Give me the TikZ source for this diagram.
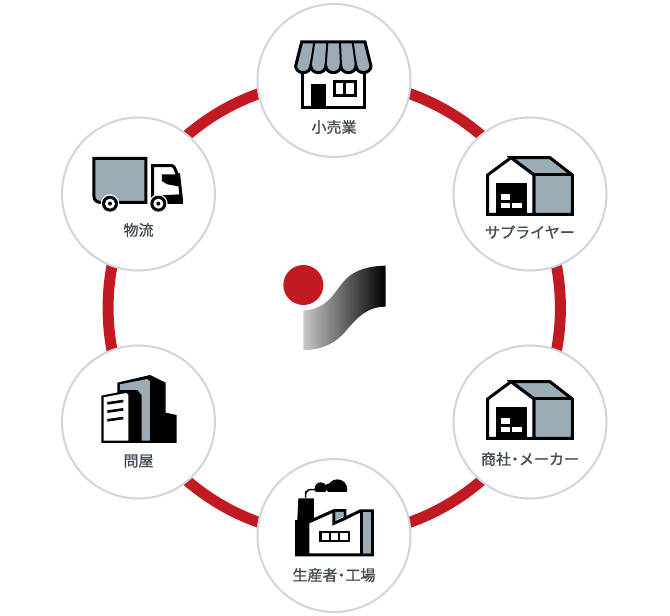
\documentclass[tikz,border=0pt]{standalone}
\usepackage{fontspec}
\setmainfont{Noto Sans CJK JP}[FakeBold=1]
\usetikzlibrary{backgrounds}
\definecolor{ringred}{HTML}{C11A22}
\definecolor{rim}{HTML}{CDD6DB}
\definecolor{slate}{HTML}{9BACB6}
\definecolor{labelc}{HTML}{3F4A50}
\tikzset{
  stage/.style={circle,draw=rim,line width=2pt,fill=white,minimum size=153pt,inner sep=0pt},
  labeltext/.style={text=labelc,font=\fontsize{15pt}{15pt}\selectfont,inner sep=0pt},
  ringarc/.style={draw=ringred,line width=11pt,bend left=30,looseness=0.912},
  ink/.style={draw=black,line width=3pt,line join=miter},
  zoomed/.style={x=0.3333pt,y=-0.3333pt},
  pics/warehouse/.style={code={
    \filldraw[fill=slate,ink] (183,128) -- (300,128) -- (367,180) -- (367,298) -- (252,298) -- (252,180) -- cycle;
    \filldraw[fill=white,ink] (113,298) -- (113,180) -- (183,128) -- (252,180) -- (252,298) -- cycle;
    \draw[ink] (252,180) -- (367,180);
    \fill[black] (137,205) rectangle (230,298);
    \fill[white] (152,238) rectangle (180,255);
    \fill[white] (152,263) rectangle (180,279);
    \fill[white] (187,263) rectangle (215,279);
  }}
}
\begin{document}
\begin{tikzpicture}[x=1pt,y=-1pt]
\useasboundingbox (0,0) rectangle (670,616);
\node[stage] (retail) at (334,80.5) {};
\node[stage] (supplier) at (530,194) {};
\node[stage] (maker) at (530,422) {};
\node[stage] (factory) at (334,535.5) {};
\node[stage] (wholesale) at (138.5,422) {};
\node[stage] (logistics) at (138.5,194) {};
\begin{scope}[on background layer]
\fill[white] (0,0) rectangle (670,616);
\draw[ringarc] (retail.center) to (supplier.center);
\draw[ringarc] (supplier.center) to (maker.center);
\draw[ringarc] (maker.center) to (factory.center);
\draw[ringarc] (factory.center) to (wholesale.center);
\draw[ringarc] (wholesale.center) to (logistics.center);
\draw[ringarc] (logistics.center) to (retail.center);
\end{scope}
\node[labeltext] (l1) at (334,127) {小売業};
\node[labeltext] (l2) at (530,232) {サプライヤー};
\node[labeltext] (l3) at (530,459) {商社\kern-3.5pt・\kern-3.5ptメーカー};
\node[labeltext] (l4) at (334,575) {生産者\kern-3.5pt・\kern-3.5pt工場};
\node[labeltext] (l5) at (138.5,461) {問屋};
\node[labeltext] (l6) at (138.5,230) {物流};
% store
\begin{scope}[shift={(250,0)},zoomed]
\filldraw[fill=white,ink] (157,205) rectangle (343,322);
\fill[black] (182,253) rectangle (228,322);
\filldraw[fill=white,ink] (253,245) rectangle (316,286);
\draw[ink] (285,245) -- (285,286);
\filldraw[fill=slate,ink] (155,126) -- (345,126) -- (363,198)
  arc[start angle=0,end angle=180,x radius=22.6,y radius=20] arc[start angle=0,end angle=180,x radius=22.6,y radius=20]
  arc[start angle=0,end angle=180,x radius=22.6,y radius=20] arc[start angle=0,end angle=180,x radius=22.6,y radius=20]
  arc[start angle=0,end angle=180,x radius=22.6,y radius=20] -- cycle;
\draw[ink,line width=2pt] (193,126) -- (182,198) (232,126) -- (227,198) (270,126) -- (273,198) (308,126) -- (318,198);
\end{scope}
% warehouses
\begin{scope}[shift={(450,115)},zoomed]
\pic {warehouse};
\end{scope}
\begin{scope}[shift={(450,339)},zoomed]
\pic {warehouse};
\end{scope}
% truck
\begin{scope}[shift={(60,115)},zoomed]
\filldraw[fill=slate,ink] (102,130) -- (258,130) -- (258,262) -- (120,262) to[out=180,in=-90] (102,245) -- cycle;
\filldraw[fill=white,ink] (278,152) -- (335,152) to[out=0,in=-110] (356,180) -- (364,250) -- (364,262) -- (278,262) -- cycle;
\fill[black] (306,178) -- (352,178) -- (360,215) -- (322,208) -- (306,198) -- cycle;
\fill[black] (285,242) -- (362,238) -- (367,262) -- (280,264) -- cycle;
\fill[white] (150,266) circle[radius=28];
\fill[white] (295,266) circle[radius=28];
\fill[black] (150,266) circle[radius=24];
\fill[white] (150,266) circle[radius=15];
\fill[black] (150,266) circle[radius=6];
\fill[black] (295,266) circle[radius=24];
\fill[white] (295,266) circle[radius=15];
\fill[black] (295,266) circle[radius=6];
\end{scope}
% building
\begin{scope}[shift={(60,345)},zoomed]
\fill[black] (172,113) -- (270,90) -- (317,113) -- (317,203) -- (350,210) -- (350,294) -- (172,294) -- cycle;
\fill[slate] (180,118) -- (262,102) -- (270,110) -- (270,287) -- (245,287) -- (245,150) -- (232,135) -- (180,135) -- cycle;
\fill[black] (124,152) -- (205,136) -- (240,148) -- (240,294) -- (124,294) -- cycle;
\fill[white] (131,157) -- (199,144) -- (205,150) -- (205,287) -- (131,287) -- cycle;
\draw[black,line width=2.6pt] (142,175) -- (190,168) (142,200) -- (190,193) (142,226) -- (190,219);
\end{scope}
% factory
\begin{scope}[shift={(250,455)},zoomed]
\filldraw[fill=white,ink] (178,200) -- (252,167) -- (285,167) -- (285,190) -- (330,168) -- (367,168) -- (367,300) -- (140,300) -- (140,200) -- cycle;
\fill[slate] (256,171) -- (281,171) -- (281,184) -- (256,196) -- cycle;
\draw[ink] (252,167) -- (252,205) -- (285,190);
\fill[slate] (338,173) rectangle (362,295);
\draw[ink] (334,168) -- (334,300);
\fill[black] (145,130) -- (192,130) -- (192,190) -- (178,197) -- (178,300) -- (137,300) -- cycle;
\fill[black] (208,227) rectangle (300,262);
\fill[white] (215,233) rectangle (236,255);
\fill[white] (243,233) rectangle (264,255);
\fill[white] (271,233) rectangle (293,255);
\draw[black,line width=1.6pt] (167,128) -- (167,112) to[out=-90,in=180] (178,104) -- (198,104);
\begin{scope}
\clip (180,50) rectangle (300,108);
\fill[black] (212,100) circle[radius=18];
\fill[black] (237,97) circle[radius=12];
\fill[black] (262,103) circle[radius=30];
\end{scope}
\end{scope}
% logo
\begin{scope}[shift={(270,255)},zoomed]
\fill[ringred] (100,90) circle[radius=60];
\shade[left color=black!22,right color=black] (100,167) .. controls (180,160) and (190,110) .. (230,70) .. controls (255,45) and (300,32) .. (347,32) -- (347,155) .. controls (290,155) and (260,190) .. (230,225) .. controls (200,262) and (160,285) .. (100,285) -- cycle;
\end{scope}
\end{tikzpicture}
\end{document}
